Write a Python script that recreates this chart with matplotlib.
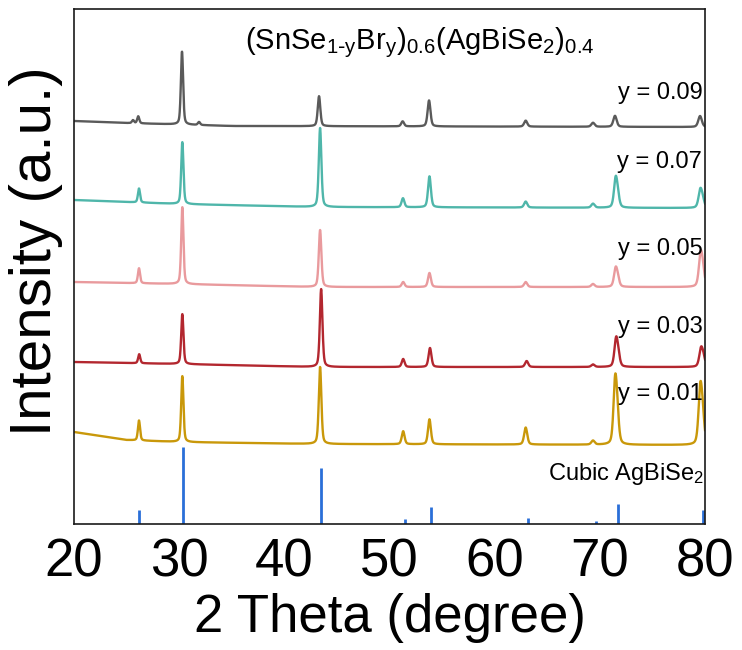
import numpy as np
import matplotlib
matplotlib.use("Agg")
import matplotlib.pyplot as plt

plt.rcParams['font.family'] = ['Liberation Sans', 'DejaVu Sans']
plt.rcParams['mathtext.default'] = 'regular'

# ---------------- data ----------------
x_ticks = [20, 30, 40, 50, 60, 70, 80]

sample_labels = ['y = 0.01', 'y = 0.03', 'y = 0.05', 'y = 0.07', 'y = 0.09']
sample_colors = ['#c9980a', '#b3272f', '#e99a9d', '#4fb6aa', '#5a5a5a']

# backgrounds: (2theta, intensity) pairs
bg01_x = [20, 25, 30, 43, 80]; bg01_y = [92, 84, 82, 80, 79]
bg03_x = [20, 30, 43, 80];     bg03_y = [162, 160, 157, 157]
bg05_x = [20, 30, 43, 80];     bg05_y = [242, 240, 237, 237]
bg07_x = [20, 30, 43, 80];     bg07_y = [324, 320, 317, 316]
bg09_x = [20, 25, 35, 80];     bg09_y = [403, 401, 398, 397]

# peaks: position (2theta) and height above background
pk01_pos = [26.18, 30.30, 43.40, 51.30, 53.80, 62.95, 69.35, 71.45, 71.65, 79.55, 79.78]
pk01_h   = [20,    66,    77,    13,    25,    17,    4,     58,    26,    53,    24]
pk03_pos = [26.20, 30.30, 43.50, 51.30, 53.85, 63.04, 69.35, 71.54, 71.75, 79.62, 79.85]
pk03_h   = [9,     50,    78,    8,     19,    6,     2.5,   26,    10,    17,    8]
pk05_pos = [26.18, 30.30, 43.40, 51.30, 53.80, 62.95, 69.35, 71.50, 71.70, 79.58, 79.80]
pk05_h   = [15,    77,    57,    5,     14,    5,     3,     17,    7,     30,    14]
pk07_pos = [26.18, 30.30, 43.40, 51.28, 53.80, 62.95, 69.35, 71.50, 71.70, 79.55, 79.78]
pk07_h   = [14,    62,    79,    9,     31,    6,     4,     27,    10,    17,    7]
pk09_pos = [25.61, 26.11, 30.27, 31.89, 43.30, 51.25, 53.76, 62.95, 69.35, 71.44, 79.53]
pk09_h   = [3,     7,     73,    3,     30,    5,     26,    6,     4,     11,    11]

# reference pattern: cubic AgBiSe2
ref_pos = [26.18, 30.36, 43.48, 51.46, 53.94, 63.16, 69.62, 71.71, 79.79]
ref_h   = [14,    77,    56,    5,     17,    6,     3,     20,    14]

# ---------------- build profiles ----------------
tt = np.linspace(20, 80, 4001)

def profile(bg_x, bg_y, pos, h):
    y = np.interp(tt, bg_x, bg_y).astype(float)
    for p, a in zip(pos, h):
        w = 0.22 + 0.003 * (p - 20)          # FWHM
        g = np.exp(-4 * np.log(2) * ((tt - p) / w) ** 2)
        l = 1.0 / (1.0 + 4 * ((tt - p) / w) ** 2)
        y += a * (0.6 * g + 0.4 * l)
    return y

series = [
    profile(bg01_x, bg01_y, pk01_pos, pk01_h),
    profile(bg03_x, bg03_y, pk03_pos, pk03_h),
    profile(bg05_x, bg05_y, pk05_pos, pk05_h),
    profile(bg07_x, bg07_y, pk07_pos, pk07_h),
    profile(bg09_x, bg09_y, pk09_pos, pk09_h),
]

# ---------------- figure ----------------
fig = plt.figure(figsize=(7.42, 6.50), dpi=100)
ax = fig.add_axes([74 / 742, 1 - 524 / 650, (705 - 74) / 742, (524 - 9) / 650])

for y, c in zip(series, sample_colors):
    ax.plot(tt, y, color=c, lw=1.7, solid_joinstyle='round')

ax.vlines(ref_pos, 0, ref_h, color='#2a6fd8', lw=2.0)

ax.set_xlim(20, 80)
ax.set_ylim(0, 515)
ax.set_xticks(x_ticks)
ax.set_yticks([])
ax.tick_params(axis='x', length=0, pad=10, labelsize=38)
for s in ax.spines.values():
    s.set_linewidth(1.2)
    s.set_color('#1a1a1a')

ax.set_xlabel('2 Theta (degree)', fontsize=38, labelpad=4)
ax.set_ylabel('Intensity (a.u.)', fontsize=42)
ax.yaxis.set_label_coords(-0.018, 0.53)

label_y = [130, 197, 275, 362, 431]
for lab, ly in zip(sample_labels, label_y):
    ax.text(79.75, ly, lab, ha='right', va='center', fontsize=17)

ax.text(79.95, 50, 'Cubic AgBiSe$_2$', ha='right', va='center', fontsize=17)
ax.text(52.9, 481, r'(SnSe$_{1\text{-}y}$Br$_y$)$_{0.6}$(AgBiSe$_2$)$_{0.4}$',
        ha='center', va='center', fontsize=21)

fig.savefig('out.png', dpi=100)
